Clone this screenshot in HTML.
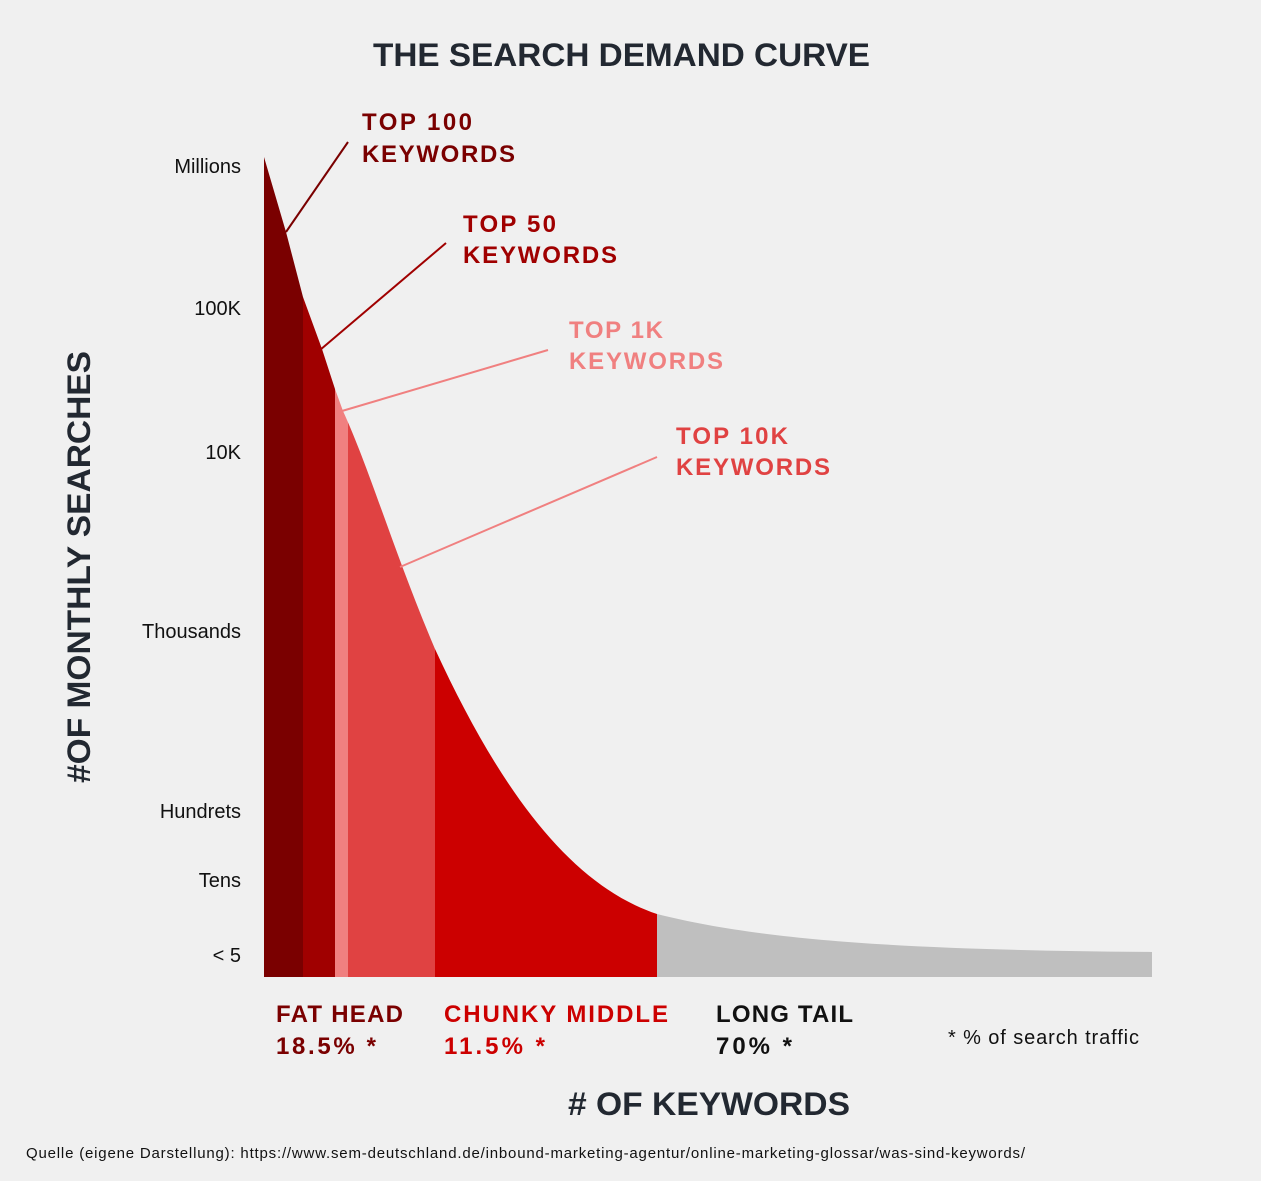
<!DOCTYPE html>
<html><head><meta charset="utf-8"><style>
body{margin:0;background:#f0f0f0;}
svg{display:block}
text{font-family:"Liberation Sans",sans-serif;}
</style></head><body>
<svg width="1261" height="1181" viewBox="0 0 1261 1181">
<rect width="1261" height="1181" fill="#f0f0f0"/>
<defs>
<clipPath id="c">
<path d="M264,157 L286,232 L303,297 L322,349 L335,389 L343,411 C370,470 395,555 435,649 C500,790 570,885 657,914 C760,940 900,950 1152,952 L1152,977 L264,977 Z"/>
</clipPath>
</defs>
<g clip-path="url(#c)">
<rect x="264" y="100" width="39" height="900" fill="#7a0000"/>
<rect x="303" y="100" width="32" height="900" fill="#a00000"/>
<rect x="335" y="100" width="13" height="900" fill="#f08080"/>
<rect x="348" y="100" width="87" height="900" fill="#e04242"/>
<rect x="435" y="100" width="222" height="900" fill="#cc0000"/>
<rect x="657" y="100" width="500" height="900" fill="#bfbfbf"/>
</g>
<line x1="286" y1="232" x2="348" y2="142" stroke="#7a0000" stroke-width="2"/>
<line x1="320" y1="350" x2="446" y2="243" stroke="#a00000" stroke-width="2"/>
<line x1="342" y1="411" x2="548" y2="350" stroke="#f08080" stroke-width="2"/>
<line x1="400" y1="567" x2="657" y2="457" stroke="#f08080" stroke-width="2"/>
<text x="373" y="66" font-size="32" font-weight="bold" fill="#222831" textLength="497" lengthAdjust="spacingAndGlyphs">THE SEARCH DEMAND CURVE</text>
<g font-size="24" font-weight="bold">
<text x="362" y="130" fill="#7a0000" textLength="110">TOP 100</text>
<text x="362" y="162" fill="#7a0000" textLength="153">KEYWORDS</text>
<text x="463" y="232" fill="#a00000" textLength="93">TOP 50</text>
<text x="463" y="263" fill="#a00000" textLength="154">KEYWORDS</text>
<text x="569" y="338" fill="#f08080" textLength="94">TOP 1K</text>
<text x="569" y="369" fill="#f08080" textLength="154">KEYWORDS</text>
<text x="676" y="444" fill="#e04242" textLength="112">TOP 10K</text>
<text x="676" y="475" fill="#e04242" textLength="154">KEYWORDS</text>
<text x="276" y="1022" fill="#7a0000" textLength="127">FAT HEAD</text>
<text x="276" y="1054" fill="#7a0000" textLength="100">18.5% *</text>
<text x="444" y="1022" fill="#cc0000" textLength="224">CHUNKY MIDDLE</text>
<text x="444" y="1054" fill="#cc0000" textLength="101">11.5% *</text>
<text x="716" y="1022" fill="#111" textLength="137">LONG TAIL</text>
<text x="716" y="1054" fill="#111" textLength="76">70% *</text>
</g>
<g font-size="20" fill="#111" text-anchor="end">
<text x="241" y="173">Millions</text>
<text x="241" y="315">100K</text>
<text x="241" y="459">10K</text>
<text x="241" y="638">Thousands</text>
<text x="241" y="818">Hundrets</text>
<text x="241" y="887">Tens</text>
<text x="241" y="962">&lt; 5</text>
</g>
<text x="948" y="1044" font-size="20" fill="#111" textLength="191">* % of search traffic</text>
<text x="568" y="1115" font-size="32" font-weight="bold" fill="#222831" textLength="282" lengthAdjust="spacingAndGlyphs"># OF KEYWORDS</text>
<text transform="translate(90,567) rotate(-90)" font-size="32" font-weight="bold" fill="#222831" text-anchor="middle" textLength="432" lengthAdjust="spacingAndGlyphs">#OF MONTHLY SEARCHES</text>
<text x="26" y="1158" font-size="15" fill="#111" textLength="999">Quelle (eigene Darstellung): https://www.sem-deutschland.de/inbound-marketing-agentur/online-marketing-glossar/was-sind-keywords/</text>
</svg>
</body></html>
